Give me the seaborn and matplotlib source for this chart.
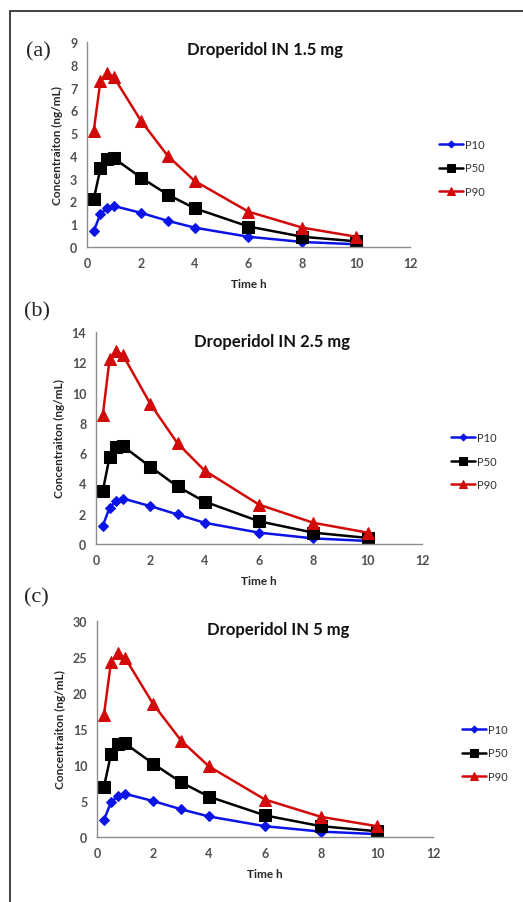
import matplotlib
matplotlib.use('Agg')
import matplotlib.pyplot as plt
import seaborn as sns
import pandas as pd
from matplotlib.patches import Rectangle

time_h = [0.25, 0.5, 0.75, 1, 2, 3, 4, 6, 8, 10]

p10_a = [0.7, 1.45, 1.7, 1.8, 1.5, 1.15, 0.85, 0.45, 0.22, 0.12]
p50_a = [2.1, 3.45, 3.85, 3.9, 3.05, 2.3, 1.7, 0.9, 0.45, 0.25]
p90_a = [5.1, 7.3, 7.65, 7.45, 5.55, 4.0, 2.9, 1.55, 0.85, 0.45]

p10_b = [1.2, 2.4, 2.85, 3.0, 2.5, 1.95, 1.4, 0.75, 0.37, 0.2]
p50_b = [3.5, 5.75, 6.4, 6.45, 5.1, 3.8, 2.8, 1.5, 0.75, 0.4]
p90_b = [8.5, 12.2, 12.75, 12.45, 9.25, 6.65, 4.85, 2.6, 1.4, 0.75]

p10_c = [2.4, 4.8, 5.7, 6.0, 5.0, 3.85, 2.85, 1.5, 0.75, 0.4]
p50_c = [7.0, 11.5, 12.9, 13.0, 10.2, 7.6, 5.6, 3.0, 1.5, 0.8]
p90_c = [17.0, 24.3, 25.5, 24.9, 18.5, 13.4, 9.8, 5.2, 2.8, 1.5]

series = ['P10', 'P50', 'P90']
titles = ['Droperidol IN 1.5 mg', 'Droperidol IN 2.5 mg', 'Droperidol IN 5 mg']
panel_tags = ['(a)', '(b)', '(c)']
y_max = [9, 14, 30]
y_step = [1, 2, 5]

sns.set_style('white')
plt.rcParams['font.family'] = ['Lato', 'DejaVu Sans']

colors = {'P10': '#0a14e6', 'P50': '#000000', 'P90': '#d20a0a'}
markers = {'P10': 'D', 'P50': 's', 'P90': '^'}
msizes = {'P10': 5, 'P50': 9, 'P90': 8}

panels = [[p10_a, p50_a, p90_a], [p10_b, p50_b, p90_b], [p10_c, p50_c, p90_c]]

# axes boxes in figure pixels: left, right, top, bottom
W, H = 523, 903
boxes = [(87, 410, 43, 248), (96, 422, 333, 545), (97, 433, 622, 838)]
title_pos = [(265, 50), (272, 342), (278, 630)]
tag_pos = [(26, 52), (24, 312), (24, 598)]
legend_pos = [(437, 145), (449, 438), (460, 730)]

fig = plt.figure(figsize=(W / 100, H / 100), dpi=100)
fig.patches.append(Rectangle((10 / W, -0.1), 1.2, 1.1 - 12 / H, transform=fig.transFigure,
                             fill=False, edgecolor='#333333', linewidth=1.3))

for i in range(3):
    l, r, t, b = boxes[i]
    ax = fig.add_axes([l / W, 1 - b / H, (r - l) / W, (b - t) / H])
    df = pd.DataFrame({'time': time_h * 3,
                       'conc': panels[i][0] + panels[i][1] + panels[i][2],
                       'series': [s for s in series for _ in time_h]})
    for s in series:
        sns.lineplot(data=df[df['series'] == s], x='time', y='conc', ax=ax,
                     color=colors[s], marker=markers[s], markersize=msizes[s],
                     markeredgecolor=colors[s], linewidth=1.8, label=s)
    ax.set_xlim(0, 12)
    ax.set_ylim(0, y_max[i])
    ax.set_xticks(range(0, 13, 2))
    ax.set_yticks(range(0, y_max[i] + 1, y_step[i]))
    for sp in ['top', 'right']:
        ax.spines[sp].set_visible(False)
    for sp in ['left', 'bottom']:
        ax.spines[sp].set_color('#8c8c8c')
        ax.spines[sp].set_linewidth(1.0)
    ax.tick_params(axis='both', direction='out', length=4, width=1, color='#8c8c8c',
                   labelsize=9, labelcolor='#505050', pad=3)
    for lab in ax.get_xticklabels() + ax.get_yticklabels():
        lab.set_fontweight('bold')
    ax.set_xlabel('Time h', fontsize=8.5, fontweight='bold', labelpad=7)
    ax.set_ylabel('Concentraiton (ng/mL)', fontsize=8.5, fontweight='bold', labelpad=5)
    ax.get_legend().remove()

    tx, ty = title_pos[i]
    fig.text(tx / W, 1 - ty / H, titles[i], ha='center', va='center',
             fontsize=12, fontweight='bold', color='#111111')
    gx, gy = tag_pos[i]
    fig.text(gx / W, 1 - gy / H, panel_tags[i], ha='left', va='center',
             fontsize=16, family='Liberation Serif', color='#222222')

    lx, ly = legend_pos[i]
    handles, labels = ax.get_legend_handles_labels()
    leg = fig.legend(handles, labels, loc='center left',
                     bbox_to_anchor=((lx - 8) / W, 1 - (ly + 24) / H),
                     frameon=False, fontsize=8, handlelength=2.2, handletextpad=0.1,
                     labelspacing=1.1, labelcolor='#303030', markerscale=0.7)

fig.savefig('out.png', dpi=100)
